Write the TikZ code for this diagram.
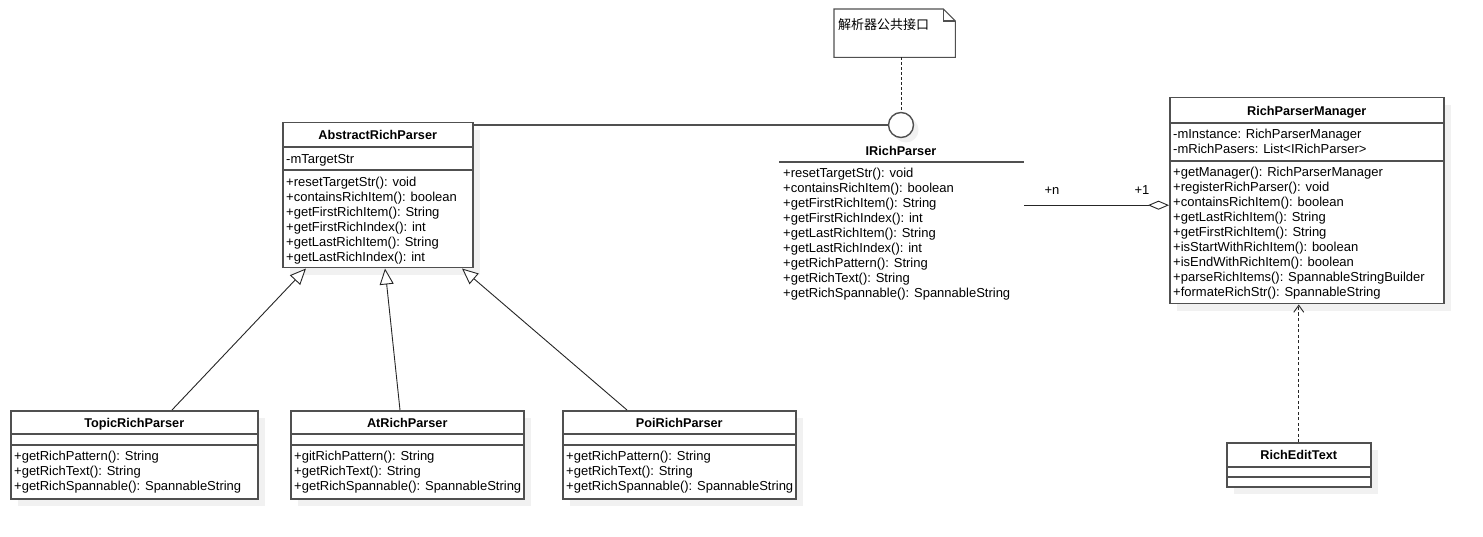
\documentclass[tikz,border=0pt]{standalone}
\usepackage{fontspec}
\setmainfont{Liberation Sans}
\newfontfamily\cjkfont{Noto Sans CJK SC}
\usetikzlibrary{arrows.meta,shadows,calc}

\definecolor{umlgray}{RGB}{80,80,80}
\definecolor{shadowgray}{RGB}{241,241,241}

\tikzset{
  umlbox/.style={draw=umlgray, line width=1.5pt, fill=white, anchor=north west, inner sep=0pt,
    drop shadow={shadow xshift=7pt, shadow yshift=-7pt, fill=shadowgray, opacity=1}},
  umlsep/.style={draw=umlgray, line width=1.5pt},
  classname/.style={font=\fontsize{12.7}{15}\selectfont\bfseries, inner sep=0pt, text height=9.2pt, text depth=2.7pt},
  member/.style={font=\fontsize{13}{15}\selectfont, anchor=base west, inner sep=0pt},
  gen/.style={draw=black!85, line width=0.9pt, -{Triangle[open, length=16pt, width=14pt, fill=white]}},
  assoc/.style={draw=black!85, line width=0.9pt, -{Diamond[open, length=21pt, width=9pt, fill=white]}},
  dep/.style={draw=black!85, line width=0.9pt, dash pattern=on 3pt off 2.5pt, -{Straight Barb[length=7pt, width=10pt]}}
}

\begin{document}
\begin{tikzpicture}[x=1pt, y=-1pt]
\path[fill=white, use as bounding box] (0,0) rectangle (1483,537);

% note
\node[anchor=north west, minimum width=121pt, minimum height=48pt, inner sep=0pt] (note) at (834,9) {};
\draw[umlsep, line width=1.1pt, fill=white] (note.south west) -- (note.north west) -- ($(note.north east)+(-12,0)$)
  -- ($(note.north east)+(0,12)$) -- (note.south east) -- cycle;
\draw[umlsep, line width=1.1pt] ($(note.north east)+(-12,0)$) -- ($(note.north east)+(-12,12)$) -- ($(note.north east)+(0,12)$);
\node[font=\cjkfont\fontsize{13}{15}\selectfont, anchor=west, inner sep=0pt] (note-t) at (838,24.5) {解析器公共接口};

% AbstractRichParser
\node[umlbox, minimum width=190pt, minimum height=145pt] (abs) at (282,122) {};
\node[classname] (abs-t) at (abs.north |- 0,136.5) {AbstractRichParser};
\draw[umlsep] (abs.west |- 0,147) -- (abs.east |- 0,147);
\draw[umlsep] (abs.west |- 0,170) -- (abs.east |- 0,170);
\foreach \m [count=\i] in {-mTargetStr}
  \node[member] (abs-a\i) at (286,148.5+15*\i) {\m};
\foreach \m [count=\i] in {+resetTargetStr(): void, +containsRichItem(): boolean, +getFirstRichItem(): String,
    +getFirstRichIndex(): int, +getLastRichItem(): String, +getLastRichIndex(): int}
  \node[member] (abs-m\i) at (286,171.5+15*\i) {\m};

% IRichParser
\node[circle, draw=umlgray, line width=1.4pt, fill=white, minimum size=25pt, inner sep=0pt,
  drop shadow={shadow xshift=5pt, shadow yshift=-5pt, fill=shadowgray, opacity=1}] (irp) at (901,125) {};
\draw[umlsep] (abs.east |- irp) -- (irp.west);
\draw[draw=black!85, line width=0.9pt, dash pattern=on 3pt off 2pt] (irp.north |- note.south) -- (irp.north);
\node[anchor=north west, minimum width=245pt, minimum height=86pt, inner sep=0pt] (irpbox) at (779,162) {};
\node[classname] (irp-t) at (irp.south |- 0,152.5) {IRichParser};
\draw[umlsep] (irpbox.north west) -- (irpbox.north east);
\foreach \m [count=\i] in {+resetTargetStr(): void, +containsRichItem(): boolean, +getFirstRichItem(): String,
    +getFirstRichIndex(): int, +getLastRichItem(): String, +getLastRichIndex(): int,
    +getRichPattern(): String, +getRichText(): String, +getRichSpannable(): SpannableString}
  \node[member] (irp-m\i) at (783,162.5+15*\i) {\m};

% RichParserManager
\node[umlbox, minimum width=274pt, minimum height=206pt] (mgr) at (1169,97) {};
\node[classname] (mgr-t) at (mgr.north |- 0,112) {RichParserManager};
\draw[umlsep] (mgr.west |- 0,123) -- (mgr.east |- 0,123);
\draw[umlsep] (mgr.west |- 0,161) -- (mgr.east |- 0,161);
\foreach \m [count=\i] in {-mInstance: RichParserManager, -mRichPasers: List<IRichParser>}
  \node[member] (mgr-a\i) at (1173,123.5+15*\i) {\m};
\foreach \m [count=\i] in {+getManager(): RichParserManager, +registerRichParser(): void, +containsRichItem(): boolean,
    +getLastRichItem(): String, +getFirstRichItem(): String, +isStartWithRichItem(): boolean,
    +isEndWithRichItem(): boolean, +parseRichItems(): SpannableStringBuilder, +formateRichStr(): SpannableString}
  \node[member] (mgr-m\i) at (1173,162+15*\i) {\m};

\draw[assoc] (irpbox.east) -- (mgr.west |- irpbox.east);
\node[member, anchor=center] (mult-n) at (1052,191) {+n};
\node[member, anchor=center] (mult-1) at (1142,190) {+1};

% RichEditText
\node[umlbox, minimum width=144pt, minimum height=44pt] (ret) at (1226,442) {};
\node[classname] (ret-t) at (ret.north |- 0,456.5) {RichEditText};
\draw[umlsep] (ret.west |- 0,467) -- (ret.east |- 0,467);
\draw[umlsep] (ret.west |- 0,477) -- (ret.east |- 0,477);
\draw[dep] (ret.north) -- (ret.north |- mgr.south);

% TopicRichParser
\node[umlbox, minimum width=247pt, minimum height=88pt] (topic) at (10,410) {};
\node[classname] (topic-t) at (topic.north |- 0,424) {TopicRichParser};
\draw[umlsep] (topic.west |- 0,434) -- (topic.east |- 0,434);
\draw[umlsep] (topic.west |- 0,445) -- (topic.east |- 0,445);
\foreach \m [count=\i] in {+getRichPattern(): String, +getRichText(): String, +getRichSpannable(): SpannableString}
  \node[member] (topic-m\i) at (14,445.5+15*\i) {\m};

% AtRichParser
\node[umlbox, minimum width=233pt, minimum height=88pt] (at) at (290,410) {};
\node[classname] (at-t) at (at.north |- 0,424) {AtRichParser};
\draw[umlsep] (at.west |- 0,434) -- (at.east |- 0,434);
\draw[umlsep] (at.west |- 0,445) -- (at.east |- 0,445);
\foreach \m [count=\i] in {+gitRichPattern(): String, +getRichText(): String, +getRichSpannable(): SpannableString}
  \node[member] (at-m\i) at (294,445.5+15*\i) {\m};

% PoiRichParser
\node[umlbox, minimum width=233pt, minimum height=88pt] (poi) at (562,410) {};
\node[classname] (poi-t) at (poi.north |- 0,424) {PoiRichParser};
\draw[umlsep] (poi.west |- 0,434) -- (poi.east |- 0,434);
\draw[umlsep] (poi.west |- 0,445) -- (poi.east |- 0,445);
\foreach \m [count=\i] in {+getRichPattern(): String, +getRichText(): String, +getRichSpannable(): SpannableString}
  \node[member] (poi-m\i) at (566,445.5+15*\i) {\m};

\draw[gen] (topic.north -| 172,0) -- (abs.south -| 306,0);
\draw[gen] (at.north -| 400,0) -- (abs.south -| 385,0);
\draw[gen] (poi.north -| 627,0) -- (abs.south -| 462,0);
\end{tikzpicture}
\end{document}
